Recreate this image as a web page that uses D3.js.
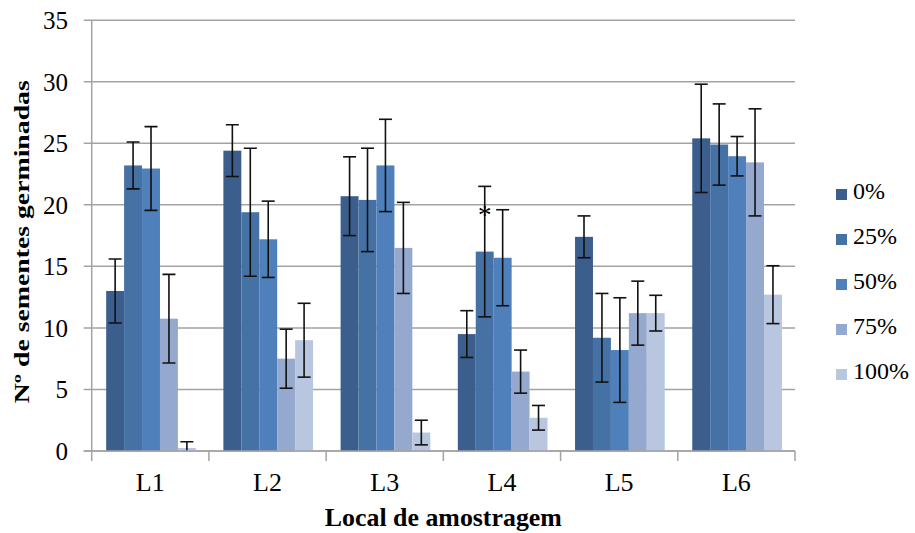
<!DOCTYPE html>
<html>
<head>
<meta charset="utf-8">
<script src="https://cdn.jsdelivr.net/npm/d3@7"></script>
<style>
  body { margin: 0; background: #fff; }
  svg text { font-family: "Liberation Serif", "DejaVu Serif", serif; fill: #000; }
</style>
</head>
<body>
<div id="chart"></div>
<script>
const locais = ['L1', 'L2', 'L3', 'L4', 'L5', 'L6']
const series = ['0%', '25%', '50%', '75%', '100%']
// mean germinated seeds per site, one array per treatment
const mean0 = [13.0, 24.4, 20.7, 9.5, 17.4, 25.4]
const mean25 = [23.2, 19.4, 20.4, 16.2, 9.2, 24.9]
const mean50 = [22.95, 17.2, 23.2, 15.7, 8.2, 23.95]
const mean75 = [10.75, 7.5, 16.5, 6.45, 11.2, 23.45]
const mean100 = [0.25, 9.0, 1.5, 2.7, 11.2, 12.7]
// +/- error
const err0 = [2.6, 2.1, 3.2, 1.9, 1.7, 4.4]
const err25 = [1.9, 5.2, 4.2, 5.3, 3.6, 3.3]
const err50 = [3.4, 3.1, 3.75, 3.9, 4.25, 1.6]
const err75 = [3.6, 2.4, 3.7, 1.75, 2.6, 4.35]
const err100 = [0.5, 3.0, 1.0, 1.0, 1.45, 2.35]
const yTicks = [0, 5, 10, 15, 20, 25, 30, 35]
const marks = [{ local: 'L4', serie: '25%', text: '*', value: 19.4 }]

const means = [mean0, mean25, mean50, mean75, mean100]
const errs = [err0, err25, err50, err75, err100]
const colors = ['#3b5e8c', '#4571a5', '#4f80bc', '#95a9ce', '#b9c6df']

const width = 915, height = 533
const plot = { left: 91.7, right: 795, top: 20.2, bottom: 451 }
const serif = '"Liberation Serif", "DejaVu Serif", serif'

const svg = d3.select('#chart').append('svg')
  .attr('width', width).attr('height', height)
  .attr('font-family', serif)

const x = d3.scaleBand().domain(locais).range([plot.left, plot.right]).padding(0)
const bw = x.bandwidth()
const gap = bw * 0.235
const xs = d3.scaleBand().domain(series).range([gap / 2 + 0.7, bw - gap / 2 + 0.7]).padding(0)
const y = d3.scaleLinear().domain([0, 35]).range([plot.bottom, plot.top])

// gridlines + left ticks
svg.append('g').selectAll('line').data(yTicks).join('line')
  .attr('x1', plot.left - 8).attr('x2', plot.right)
  .attr('y1', d => y(d)).attr('y2', d => y(d))
  .attr('stroke', '#a3a3a3').attr('stroke-width', 1.5)

svg.append('g').selectAll('text').data(yTicks).join('text')
  .attr('x', 68).attr('y', d => y(d) + 9)
  .attr('text-anchor', 'end').attr('font-size', 25)
  .attr('font-family', serif)
  .text(d => d)

// axis lines
svg.append('line')
  .attr('x1', plot.left).attr('x2', plot.left)
  .attr('y1', plot.top).attr('y2', plot.bottom)
  .attr('stroke', '#a3a3a3').attr('stroke-width', 1.5)

const catTicks = locais.map(d => x(d)).concat([plot.right])
svg.append('g').selectAll('line').data(catTicks).join('line')
  .attr('x1', d => d).attr('x2', d => d)
  .attr('y1', plot.bottom).attr('y2', plot.bottom + 10)
  .attr('stroke', '#a3a3a3').attr('stroke-width', 1.5)

// bars
const rows = []
locais.forEach((l, i) => series.forEach((s, j) => {
  rows.push({ local: l, serie: s, j, v: means[j][i], e: errs[j][i] })
}))

svg.append('defs').append('clipPath').attr('id', 'plotclip')
  .append('rect').attr('x', plot.left).attr('y', 0)
  .attr('width', plot.right - plot.left).attr('height', plot.bottom)

const g = svg.append('g').attr('clip-path', 'url(#plotclip)')
g.selectAll('rect.bar').data(rows).join('rect')
  .attr('class', 'bar')
  .attr('x', d => x(d.local) + xs(d.serie))
  .attr('width', xs.bandwidth())
  .attr('y', d => y(d.v))
  .attr('height', d => y(0) - y(d.v))
  .attr('fill', d => colors[d.j])

// error bars
const eb = g.selectAll('g.err').data(rows).join('g').attr('class', 'err')
  .attr('stroke', '#111').attr('stroke-width', 1.6)
const cx = d => x(d.local) + xs(d.serie) + xs.bandwidth() / 2
eb.append('line')
  .attr('x1', cx).attr('x2', cx)
  .attr('y1', d => y(d.v + d.e)).attr('y2', d => y(d.v - d.e))
eb.append('line')
  .attr('x1', d => cx(d) - 6.5).attr('x2', d => cx(d) + 6.5)
  .attr('y1', d => y(d.v + d.e)).attr('y2', d => y(d.v + d.e))
eb.append('line')
  .attr('x1', d => cx(d) - 6.5).attr('x2', d => cx(d) + 6.5)
  .attr('y1', d => y(d.v - d.e)).attr('y2', d => y(d.v - d.e))

// redraw zero line over bars
svg.append('line')
  .attr('x1', plot.left - 8).attr('x2', plot.right)
  .attr('y1', y(0)).attr('y2', y(0))
  .attr('stroke', '#a3a3a3').attr('stroke-width', 1.5)

// significance marks
svg.selectAll('text.mark').data(marks).join('text')
  .attr('class', 'mark')
  .attr('x', d => x(d.local) + xs(d.serie) + xs.bandwidth() / 2)
  .attr('y', d => y(d.value) + 12)
  .attr('text-anchor', 'middle').attr('font-size', 27)
  .text(d => d.text)

// category labels
svg.selectAll('text.cat').data(locais).join('text')
  .attr('class', 'cat')
  .attr('x', d => x(d) + bw / 2)
  .attr('y', 491)
  .attr('text-anchor', 'middle').attr('font-size', 26)
  .text(d => d)

// axis titles
svg.append('text')
  .attr('x', (plot.left + plot.right) / 2).attr('y', 526)
  .attr('text-anchor', 'middle').attr('font-size', 26).attr('font-weight', 'bold')
  .attr('textLength', 237).attr('lengthAdjust', 'spacingAndGlyphs')
  .text('Local de amostragem')

svg.append('text')
  .attr('transform', 'translate(29,241.7) rotate(-90)')
  .attr('text-anchor', 'middle').attr('font-size', 21).attr('font-weight', 'bold')
  .attr('textLength', 323).attr('lengthAdjust', 'spacingAndGlyphs')
  .text('Nº de sementes germinadas')

// legend
const lg = svg.append('g').selectAll('g').data(series).join('g')
  .attr('transform', (d, i) => `translate(836,${189 + i * 45})`)
lg.append('rect').attr('width', 11).attr('height', 11)
  .attr('fill', (d, i) => colors[i])
lg.append('text').attr('x', 17).attr('y', 10).attr('font-size', 24)
  .text(d => d)
</script>
</body>
</html>
